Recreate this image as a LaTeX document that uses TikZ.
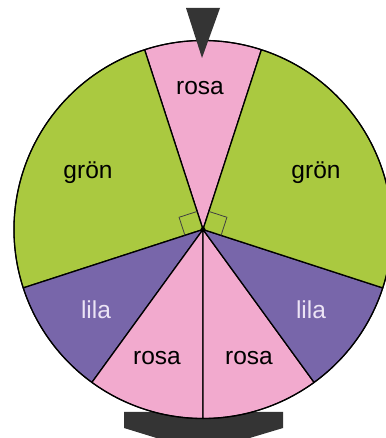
\documentclass[tikz,border=0pt]{standalone}
\usepackage{fontspec}
\setmainfont{Liberation Sans}
\definecolor{wgreen}{RGB}{170,201,64}
\definecolor{wpink}{RGB}{242,170,206}
\definecolor{wlila}{RGB}{120,102,170}
\definecolor{wdark}{RGB}{52,52,52}
\definecolor{wlilatext}{RGB}{236,228,245}
\begin{document}
\begin{tikzpicture}[x=1pt,y=1pt,
  wedge/.style={draw=black,line width=1.3pt,line join=round},
  lbl/.style={font=\fontsize{24.5}{28}\selectfont,text=black,inner sep=0pt},
  lilalbl/.style={lbl,text=wlilatext},
  rightmark/.style={draw=black!75,line width=0.8pt}]
\useasboundingbox (0,0) rectangle (385,438);
\coordinate (c) at (203,208.5);
% base
\fill[wdark] (124,26) -- (283,26) -- (283,10) -- (243,-2) -- (163,-2) -- (124,10) -- cycle;
% wedges
\foreach \a/\b/\col in {72/108/wpink,108/198/wgreen,198/234/wlila,234/270/wpink,270/306/wpink,306/342/wlila,342/432/wgreen}{
  \filldraw[wedge,fill=\col] (c) -- ++(\a:189pt) arc[start angle=\a,end angle=\b,radius=189pt] -- cycle;
}
\draw[line width=1pt] (c) circle[radius=189pt];
% right angle marks
\draw[rightmark] (c) ++(108:19pt) -- ++(198:19pt) -- ++(288:19pt);
\draw[rightmark] (c) ++(72:19pt) -- ++(-18:19pt) -- ++(-108:19pt);
\fill[black] (c) circle[radius=2.5pt];
% pointer
\fill[wdark] (186,430) -- (220,430) -- (202,380) -- cycle;
% labels
\node[lbl] (r1) at (200,350) {rosa};
\node[lbl] (g1) at (88,265.5) {grön};
\node[lbl] (g2) at (316,265.5) {grön};
\node[lilalbl] (l1) at (96,128) {lila};
\node[lilalbl] (l2) at (311,128) {lila};
\node[lbl] (r2) at (157,80) {rosa};
\node[lbl] (r3) at (249,80) {rosa};
\end{tikzpicture}
\end{document}
